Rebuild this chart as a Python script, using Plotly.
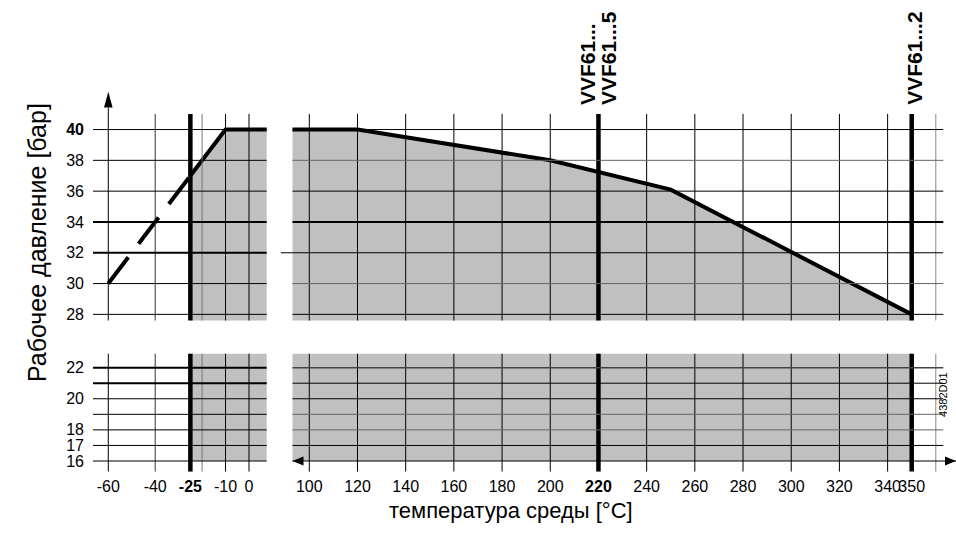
import plotly.graph_objects as go

W, H = 956, 548


def px(x):
    return x / W


def py(y):
    return 1 - y / H


# ---------------- data ----------------
dash_temp = [-60, -25]
dash_pres = [30, 37]
left_temp = [-25, -10, 10]
left_pres = [37, 40, 40]
right_temp = [90, 120, 200, 250, 350]
right_pres = [40, 40, 38, 36.1, 28]

left_tick_vals = [-60, -40, -25, -10, 0]
left_tick_text = ["-60", "-40", "<b>-25</b>", "-10", "0"]
right_tick_vals = [100, 120, 140, 160, 180, 200, 220, 240, 260, 280, 300, 320, 340, 350]
right_tick_text = ["100", "120", "140", "160", "180", "200", "<b>220</b>",
                   "240", "260", "280", "300", "320", "340", "350"]
top_tick_vals = [28, 30, 32, 34, 36, 38, 40]
top_tick_text = ["28", "30", "32", "34", "36", "38", "<b>40</b>"]
bottom_tick_vals = [16, 17, 18, 20, 22]
bottom_tick_text = ["16", "17", "18", "20", "22"]

left_vgrid = [-60, -40, -20, -10, 0]
left_vgrid_bold = [-25]
right_vgrid = [100, 120, 140, 160, 180, 200, 240, 260, 280, 300, 320, 340, 360]
right_vgrid_bold = [220, 350]
top_hgrid = [28, 30, 32, 34, 36, 38, 40]
bottom_hgrid = [16, 17, 18, 19, 20, 21, 22]

model_labels = ["VVF61...", "VVF61...5", "VVF61...2"]
model_temps = [220, 220, 350]

x_title = "температура среды [°C]"
y_title = "Рабочее давление [бар]"
drawing_id = "4382D01"

GRAY = "#c0c0c0"
FONT = "Liberation Sans, Arial, sans-serif"

fig = go.Figure()

# ---------------- gray areas ----------------
fig.add_trace(go.Scatter(x=left_temp, y=left_pres, xaxis="x", yaxis="y", mode="lines",
                         fill="tozeroy", fillcolor=GRAY, line=dict(width=0), hoverinfo="skip"))
fig.add_trace(go.Scatter(x=right_temp, y=right_pres, xaxis="x2", yaxis="y", mode="lines",
                         fill="tozeroy", fillcolor=GRAY, line=dict(width=0), hoverinfo="skip"))
fig.add_trace(go.Scatter(x=[left_temp[0], left_temp[-1]], y=[bottom_tick_vals[0]] * 2,
                         xaxis="x", yaxis="y2", mode="lines", line=dict(width=0), hoverinfo="skip"))
fig.add_trace(go.Scatter(x=left_temp, y=left_pres, xaxis="x", yaxis="y2", mode="lines",
                         fill="tonexty", fillcolor=GRAY, line=dict(width=0), hoverinfo="skip"))
fig.add_trace(go.Scatter(x=[right_temp[0], right_temp[-1]], y=[bottom_tick_vals[0]] * 2,
                         xaxis="x2", yaxis="y2", mode="lines", line=dict(width=0), hoverinfo="skip"))
fig.add_trace(go.Scatter(x=right_temp, y=right_pres, xaxis="x2", yaxis="y2", mode="lines",
                         fill="tonexty", fillcolor=GRAY, line=dict(width=0), hoverinfo="skip"))

# ---------------- curves ----------------
fig.add_trace(go.Scatter(x=dash_temp, y=dash_pres, xaxis="x", yaxis="y", mode="lines",
                         line=dict(color="black", width=4, dash="33px,17px"), hoverinfo="skip"))
fig.add_trace(go.Scatter(x=left_temp, y=left_pres, xaxis="x", yaxis="y", mode="lines",
                         line=dict(color="black", width=4), hoverinfo="skip"))
fig.add_trace(go.Scatter(x=right_temp, y=right_pres, xaxis="x2", yaxis="y", mode="lines",
                         line=dict(color="black", width=4), hoverinfo="skip"))

# ---------------- grid (drawn above the gray fill) ----------------
shapes = []


def vline(xref, yref, v, width=1, color="black", y0=0, y1=1):
    shapes.append(dict(type="line", layer="above", xref=xref, yref=yref + " domain",
                       x0=v, x1=v, y0=y0, y1=y1, line=dict(color=color, width=width)))


def hline(xref, yref, v, width=1, color="black", x0=0, x1=1):
    shapes.append(dict(type="line", layer="above", xref=xref + " domain", yref=yref,
                       x0=x0, x1=x1, y0=v, y1=v, line=dict(color=color, width=width)))


vgray = {-20: "#777777", -40: "#333333", 360: "#888888"}
for yref in ["y", "y2"]:
    for v in left_vgrid:
        y1 = 1.03 if (v == -60 and yref == "y") else 1
        vline("x", yref, v, 1, vgray.get(v, "black"), y1=y1)
    for v in left_vgrid_bold:
        vline("x", yref, v, 4.5)
    for v in right_vgrid:
        vline("x2", yref, v, 1, vgray.get(v, "black"))
    for v in right_vgrid_bold:
        vline("x2", yref, v, 4.5)

left_top_w = {32: 2, 34: 2}
right_top_w = {34: 2}
right_top_c = {38: "#666666", 30: "#666666"}
for v in top_hgrid:
    hline("x", "y", v, left_top_w.get(v, 1))
    hline("x2", "y", v, right_top_w.get(v, 1), right_top_c.get(v, "black"),
          x0=-0.018 if v == 32 else 0)

left_bot_w = {21: 2, 22: 2}
right_bot_w = {22: 1.5}
right_bot_c = {22: "#444444", 19: "#666666", 18: "#666666"}
for v in bottom_hgrid:
    hline("x", "y2", v, left_bot_w.get(v, 1))
    if v == bottom_hgrid[0]:
        hline("x2", "y2", v, 1.2, "black", x1=1.02)
    else:
        hline("x2", "y2", v, right_bot_w.get(v, 1), right_bot_c.get(v, "black"))

# arrows (axis ends)
shapes.append(dict(type="path", layer="above", xref="paper", yref="paper",
                   path=f"M {px(108.3)},{py(92)} L {px(104)},{py(108)} L {px(112.6)},{py(108)} Z",
                   fillcolor="black", line=dict(width=0)))
shapes.append(dict(type="path", layer="above", xref="paper", yref="paper",
                   path=f"M {px(292.5)},{py(462.7)} L {px(303.5)},{py(458.2)} L {px(303.5)},{py(467.2)} Z",
                   fillcolor="black", line=dict(width=0)))
shapes.append(dict(type="path", layer="above", xref="paper", yref="paper",
                   path=f"M {px(956)},{py(462.7)} L {px(945)},{py(458.2)} L {px(945)},{py(467.2)} Z",
                   fillcolor="black", line=dict(width=0)))

# ---------------- annotations ----------------
annotations = []
shifts = [-11, 10, 2]
for lab, t, s in zip(model_labels, model_temps, shifts):
    annotations.append(dict(text=f"<b>{lab}</b>", x=t, xref="x2", xshift=s, y=py(107), yref="paper",
                            yanchor="bottom", xanchor="center", textangle=-90, showarrow=False,
                            font=dict(family=FONT, size=21, color="black")))
annotations.append(dict(text=drawing_id, x=px(951), y=py(421), xref="paper", yref="paper",
                        textangle=-90, showarrow=False, font=dict(family=FONT, size=11, color="black")))
annotations.append(dict(text=y_title, x=px(21), y=py(244), xref="paper", yref="paper",
                        textangle=-90, showarrow=False, font=dict(family=FONT, size=25, color="black")))
annotations.append(dict(text=x_title, x=px(511), y=py(527), xref="paper", yref="paper",
                        showarrow=False, font=dict(family=FONT, size=22, color="black")))

axis_common = dict(showgrid=False, zeroline=False, showline=False, ticks="", tickangle=0,
                   tickfont=dict(family=FONT, size=16, color="black"), fixedrange=True)

fig.update_layout(
    width=W, height=H,
    margin=dict(l=0, r=0, t=0, b=0),
    paper_bgcolor="white", plot_bgcolor="white",
    showlegend=False,
    font=dict(family=FONT, color="black"),
    xaxis=dict(domain=[px(93), px(266.7)], range=[-66.52, 7.55], anchor="y2",
               tickmode="array", tickvals=left_tick_vals, ticktext=left_tick_text,
               ticklabelstandoff=3, **axis_common),
    xaxis2=dict(domain=[px(292.5), px(943.3)], range=[93.03, 363.11], anchor="y2",
                tickmode="array", tickvals=right_tick_vals, ticktext=right_tick_text,
                ticklabelstandoff=3, **axis_common),
    yaxis=dict(domain=[py(321.7), py(114.3)], range=[27.60, 41.016], anchor="x",
               tickmode="array", tickvals=top_tick_vals, ticktext=top_tick_text,
               ticklabelstandoff=8, **axis_common),
    yaxis2=dict(domain=[py(473.3), py(355)], range=[15.321, 22.896], anchor="x",
                tickmode="array", tickvals=bottom_tick_vals, ticktext=bottom_tick_text,
                ticklabelstandoff=8, **axis_common),
    shapes=shapes,
    annotations=annotations,
)

fig.write_html("out.html", config={"displayModeBar": False},
               post_script="document.body.style.margin='0';document.body.style.overflow='hidden';")
